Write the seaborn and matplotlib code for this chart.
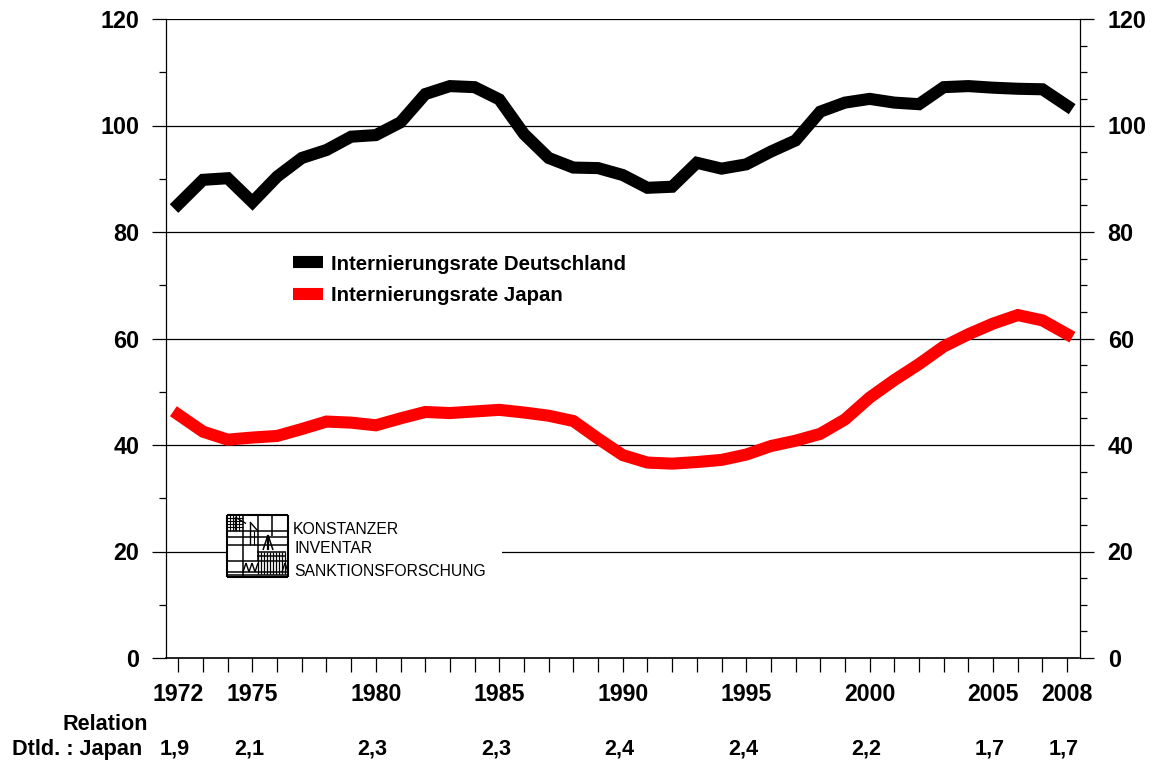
import matplotlib
matplotlib.use("Agg")
import matplotlib.pyplot as plt
from matplotlib.patches import Rectangle
import seaborn as sns
import pandas as pd

years = list(range(1972, 2009))
germany = [85.2, 89.8, 90.1, 85.6, 90.4, 93.9, 95.4, 97.9, 98.2, 100.6, 105.9, 107.4, 107.2, 104.9, 98.4, 93.9, 92.1, 92, 90.7, 88.3, 88.5, 93, 91.9, 92.7, 95.1, 97.2, 102.6, 104.3, 105, 104.3, 104, 107.2, 107.4, 107.1, 106.9, 106.8, 103.7]
japan = [45.7, 42.5, 41, 41.4, 41.7, 43, 44.4, 44.2, 43.7, 45, 46.2, 46, 46.3, 46.6, 46.1, 45.5, 44.5, 41.2, 38.1, 36.7, 36.5, 36.8, 37.2, 38.2, 39.8, 40.8, 42.1, 44.8, 48.9, 52.2, 55.2, 58.5, 60.8, 62.8, 64.4, 63.4, 60.8]
series_names = ["Internierungsrate Deutschland", "Internierungsrate Japan"]
series_colors = ["black", "#ff0000"]
tick_years = [1972, 1975, 1980, 1985, 1990, 1995, 2000, 2005, 2008]
relation_years = [1972, 1975, 1980, 1985, 1990, 1995, 2000, 2005, 2008]
relation_vals = ["1,9", "2,1", "2,3", "2,3", "2,4", "2,4", "2,2", "1,7", "1,7"]
logo_lines = ["KONSTANZER", "INVENTAR", "SANKTIONSFORSCHUNG"]
y_major = list(range(0, 121, 20))
y_minor_left = [v for v in range(0, 121, 10) if v % 20]
y_minor_right = [v for v in range(0, 121, 5) if v % 20]

sns.set_theme(style="white")
plt.rcParams['font.family'] = ['Liberation Sans', 'DejaVu Sans']

df = pd.DataFrame({"year": years * 2, "rate": germany + japan,
                   "series": [series_names[0]] * len(years) + [series_names[1]] * len(years)})

W, H = 1153, 761
LW = 8.7
fig = plt.figure(figsize=(W / 100, H / 100), dpi=100, facecolor="white")
L, R, T, B = 166, 1079.5, 19, 658
ax = fig.add_axes([L / W, 1 - B / H, (R - L) / W, (B - T) / H])
ax_r = ax.twinx()
ax.set_zorder(ax_r.get_zorder() + 1)
ax.patch.set_visible(False)
ax_r.patch.set_visible(False)
sns.lineplot(data=df, x="year", y="rate", hue="series", palette=series_colors, linewidth=LW,
             solid_joinstyle="miter", solid_capstyle="projecting", legend=False, ax=ax, zorder=3)

ax.set_xlim(1971.5, 2008.5)
ax.set_ylim(0, 120)
ax_r.set_ylim(0, 120)
ax.set_xlabel("")
ax.set_ylabel("")
for s in ax_r.spines.values():
    s.set_visible(False)
for s in ax.spines.values():
    s.set_visible(False)
for s in ("left", "right", "bottom"):
    ax.spines[s].set_visible(True)
    ax.spines[s].set_color("black")
    ax.spines[s].set_linewidth(0.9)
ax.spines["bottom"].set_linewidth(1.2)

for a, side in ((ax, "left"), (ax_r, "right")):
    a.set_yticks(y_major)
    a.set_yticklabels([str(v) for v in y_major], fontweight="bold", fontsize=16.8, color="black")
    a.tick_params(axis="y", which="major", length=10, width=0.9, color="black",
                  pad=9 if side == "left" else 10.3, direction="out",
                  left=side == "left", right=side == "right",
                  labelleft=side == "left", labelright=side == "right")
    a.set_yticks(y_minor_left if side == "left" else y_minor_right, minor=True)
    a.tick_params(axis="y", which="minor", length=5, width=0.9, color="black", direction="out",
                  left=side == "left", right=side == "right")
ax_r.grid(False)
ax.yaxis.grid(True, which="major", color="black", linewidth=0.9)
ax.set_axisbelow(True)

ax.set_xticks(years)
ax.set_xticklabels([])
ax.tick_params(axis="x", bottom=True, length=10, width=0.9, color="black", direction="out")

xpx = lambda p: p / W
ypx = lambda p: 1 - p / H

trans = ax.get_xaxis_transform()
for y in tick_years:
    ax.annotate(str(y), xy=(y, 0), xycoords=trans, xytext=(0, -(700.7 - B) * 0.72), textcoords="offset points",
                ha="center", va="baseline", fontsize=16.7, fontweight="bold", color="black", annotation_clip=False)
for y, v in zip(relation_years, relation_vals):
    ax.annotate(v, xy=(y, 0), xycoords=trans, xytext=(-2.3, -(755 - B) * 0.72), textcoords="offset points",
                ha="center", va="baseline", fontsize=15.6, fontweight="bold", color="black", annotation_clip=False)
fig.text(xpx(147.5), ypx(730), "Relation", ha="right", va="baseline", fontsize=15.6, fontweight="bold", color="black")
fig.text(xpx(142.5), ypx(755), "Dtld. : Japan", ha="right", va="baseline", fontsize=15.6, fontweight="bold", color="black")

# Legend
for name, col, py, by in zip(series_names, series_colors, [262.5, 294], [270, 301]):
    fig.add_artist(plt.Line2D([xpx(293), xpx(323)], [ypx(py)] * 2, color=col, linewidth=LW, solid_capstyle="butt"))
    fig.text(xpx(331), ypx(by), name, ha="left", va="baseline", fontsize=14.7, fontweight="bold", color="black")

# White block that interrupts the 20 gridline behind the logo
fig.add_artist(Rectangle((xpx(226), ypx(580)), (502 - 226) / W, (580 - 512) / H, facecolor="white",
                         edgecolor="none", zorder=2.5, transform=fig.transFigure))

# Logo drawing (decorative), in pixel positions
def seg(x0, y0, x1, y1, lw=0.9):
    fig.add_artist(plt.Line2D([xpx(x0), xpx(x1)], [ypx(y0), ypx(y1)], color="black", linewidth=lw,
                              solid_capstyle="butt", zorder=4))

for (x0, y0, x1, y1) in [(227, 515, 288, 515), (227, 577, 288, 577), (227, 515, 227, 577), (288, 515, 288, 577)]:
    seg(x0, y0, x1, y1, 1.5)
for x, y0, y1 in [(243, 515, 577), (258, 515, 561), (272, 515, 536)]:
    seg(x, y0, x, y1, 1.1)
for y, x0, x1 in [(531, 227, 288), (536.5, 227, 288), (545, 227, 288), (561, 227, 288), (572, 227, 288), (574.5, 227, 288)]:
    seg(x0, y, x1, y, 1.1)
for x in (230, 233, 236, 239):
    seg(x, 515, x, 531, 0.8)
for y in (518, 521, 524, 527):
    seg(227, y, 243, y, 0.8)
seg(235, 517, 246, 523.5, 1.0)
seg(235, 517, 235, 530, 1.0)
seg(250, 522, 257, 530, 1.0)
seg(250, 522, 250, 545, 1.0)
seg(254, 531, 254, 545, 0.8)
# church
seg(268, 535, 263, 550, 1.1)
seg(268, 535, 273, 550, 1.1)
seg(268, 535, 268, 550, 1.6)
seg(257, 552, 286, 552, 1.1)
seg(257, 556, 286, 556, 1.1)
for x in range(258, 286, 3):
    seg(x, 552, x, 574, 0.9)
# zigzag roofs
zig = [(243, 572), (246, 563), (249, 572), (252, 563), (255, 572), (258, 563)]
for a, b in zip(zig[:-1], zig[1:]):
    seg(a[0], a[1], b[0], b[1], 1.0)
seg(282, 572, 285, 563, 1.0)
seg(285, 563, 288, 572, 1.0)

for t, px, py in zip(logo_lines, [292.3, 294.3, 294], [533.7, 552.7, 575.7]):
    fig.text(xpx(px), ypx(py), t, ha="left", va="baseline", fontsize=11.3, color="black", zorder=5)

fig.savefig("out.png", dpi=100, facecolor="white")
